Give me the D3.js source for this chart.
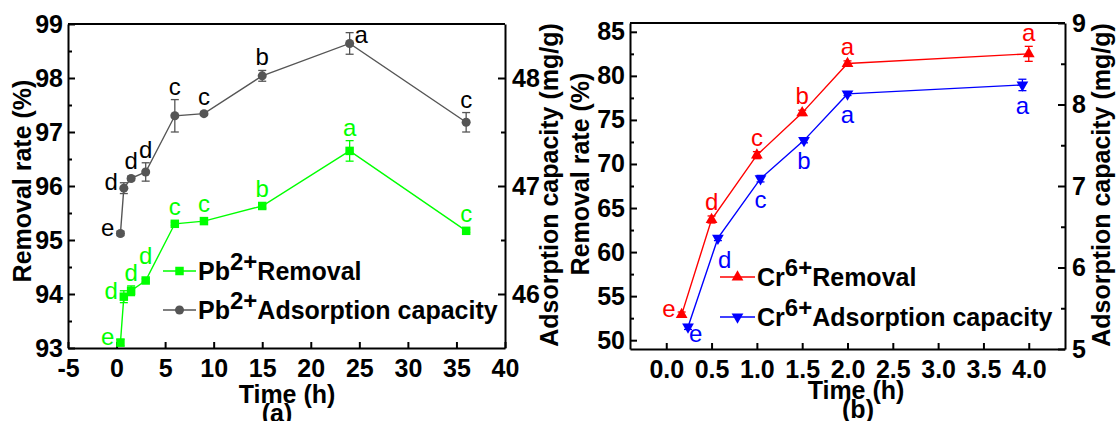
<!DOCTYPE html>
<meta charset="utf-8">
<style>

body {
  margin: 0;
  background: #fff;
}

text {
  font-family: "Liberation Sans", Arial, sans-serif;
}

.axis text {
  font-size: 25px;
  font-weight: bold;
  fill: #000;
}

.axis path,
.axis line,
.frame {
  stroke: #000;
  stroke-width: 2px;
  fill: none;
}

.title,
.legend {
  font-size: 25px;
  font-weight: bold;
}

.sig {
  font-size: 24px;
}

</style>
<body>
<script src="https://cdn.jsdelivr.net/npm/d3@7"></script>
<script>

// (a) Pb2+ : removal (left axis) and adsorption capacity (right axis)
var timePb = [0.4, 0.75, 1.5, 3, 6, 9, 15, 24, 36];
var pbRemoval = [93.10, 93.95, 94.06, 94.25, 95.30, 95.35, 95.63, 96.65, 95.17];
var pbRemovalErr = [0.06, 0.11, 0.09, 0.03, 0.03, 0.03, 0.04, 0.19, 0.03];
var pbCapacity = [46.56, 46.98, 47.07, 47.13, 47.65, 47.67, 48.02, 48.32, 47.59];
var pbCapacityErr = [0.02, 0.05, 0.02, 0.085, 0.15, 0.015, 0.05, 0.1, 0.09];
var pbLetters = ["e", "d", "d", "d", "c", "c", "b", "a", "c"];

var pbTimeTicks = [-5, 0, 5, 10, 15, 20, 25, 30, 35, 40];
var pbRemovalTicks = [93, 94, 95, 96, 97, 98, 99];
var pbCapacityTicks = [46, 47, 48];

// (b) Cr6+
var timeCrRemoval = [0.17, 0.5, 1.0, 1.5, 2.0, 4.0];
var timeCrCapacity = [0.24, 0.57, 1.04, 1.52, 2.0, 3.93];
var crRemoval = [52.9, 63.7, 71.0, 75.8, 81.4, 82.5];
var crRemovalErr = [0.3, 0.4, 0.4, 0.3, 0.3, 0.85];
var crCapacity = [5.27, 6.36, 7.09, 7.56, 8.13, 8.24];
var crCapacityErr = [0.03, 0.03, 0.04, 0.03, 0.02, 0.07];
var crLetters = ["e", "d", "c", "b", "a", "a"];

var crTimeTicks = [0, 0.5, 1, 1.5, 2, 2.5, 3, 3.5, 4];
var crRemovalTicks = [50, 55, 60, 65, 70, 75, 80, 85];
var crCapacityTicks = [5, 6, 7, 8, 9];

var svg = d3.select("body").append("svg")
    .attr("width", 1117)
    .attr("height", 421);

function zip(t, v, e, s) {
  return t.map(function(d, i) { return {t: d, v: v[i], e: e[i], s: s[i]}; });
}

function drawAxes(p) {
  var x = p.x, yL = p.yL, yR = p.yR;
  var top = yL.range()[1], bottom = yL.range()[0];
  var left = x.range()[0], right = x.range()[1];

  svg.append("g").attr("class", "axis")
      .attr("transform", "translate(0," + bottom + ")")
      .call(d3.axisBottom(x).tickValues(p.xTicks).tickSizeInner(-6).tickSizeOuter(0)
        .tickPadding(11).tickFormat(p.xFormat));

  svg.append("g").attr("class", "axis")
      .attr("transform", "translate(" + left + ",0)")
      .call(d3.axisLeft(yL).tickValues(p.yLTicks).tickSizeInner(-7).tickSizeOuter(0)
        .tickPadding(5).tickFormat(function(d) { return String(d); }));

  svg.append("g").attr("class", "axis")
      .attr("transform", "translate(" + left + ",0)")
      .call(d3.axisLeft(yL).tickValues(p.yLMinor).tickSize(-4).tickFormat(""))
      .select(".domain").remove();

  svg.append("g").attr("class", "axis")
      .attr("transform", "translate(" + right + ",0)")
      .call(d3.axisRight(yR).tickValues(p.yRTicks).tickSizeInner(-7).tickSizeOuter(0)
        .tickPadding(7).tickFormat(function(d) { return String(d); }));

  svg.append("g").attr("class", "axis")
      .attr("transform", "translate(" + right + ",0)")
      .call(d3.axisRight(yR).tickValues(p.yRMinor).tickSize(-4).tickFormat(""))
      .select(".domain").remove();

  svg.append("line").attr("class", "frame")
      .attr("x1", left).attr("x2", right)
      .attr("y1", top).attr("y2", top);
}

function place(kind, x, y, errTop) {
  switch (kind) {
    case "left": return [x - 6, y + 2, "end"];
    case "right": return [x + 5, y, "start"];
    case "high": return [x, y - 17, "middle"];
    case "below": return [x, y + 29, "middle"];
    case "belowRight": return [x, y + 30, "start"];
    case "rightBelow": return [x + 1, y + 15, "start"];
    default: return [x, Math.min(y - 9, errTop - 5), "middle"];
  }
}

function drawSeries(s) {
  var g = svg.append("g");
  var x = s.x, y = s.y;

  g.append("path")
      .datum(s.data)
      .attr("fill", "none")
      .attr("stroke", s.color)
      .attr("stroke-width", 1.4)
      .attr("d", d3.line().x(function(d) { return x(d.t); }).y(function(d) { return y(d.v); }));

  var err = g.selectAll(".err").data(s.data).enter().append("g")
      .attr("stroke", s.color)
      .attr("stroke-width", 1.3);
  err.append("line")
      .attr("x1", function(d) { return x(d.t); })
      .attr("x2", function(d) { return x(d.t); })
      .attr("y1", function(d) { return y(d.v - d.e); })
      .attr("y2", function(d) { return y(d.v + d.e); });
  [-1, 1].forEach(function(k) {
    err.append("line")
        .attr("x1", function(d) { return x(d.t) - 4; })
        .attr("x2", function(d) { return x(d.t) + 4; })
        .attr("y1", function(d) { return y(d.v + k * d.e); })
        .attr("y2", function(d) { return y(d.v + k * d.e); });
  });

  g.selectAll(".mk").data(s.data).enter().append("path")
      .attr("fill", s.color)
      .attr("d", d3.symbol().type(s.symbol).size(s.size))
      .attr("transform", function(d) {
        return "translate(" + x(d.t) + "," + y(d.v) + ")" + (s.flip ? " rotate(180)" : "");
      });

  g.selectAll(".sig").data(s.data).enter().append("text")
      .attr("class", "sig")
      .attr("fill", s.letterColor)
      .each(function(d, i) {
        var p = place(s.places[i], x(d.t), y(d.v), y(d.v + d.e));
        d3.select(this).attr("x", p[0]).attr("y", p[1]).attr("text-anchor", p[2]);
      })
      .text(function(d) { return d.s; });
}

function legendItem(l) {
  svg.append("line")
      .attr("x1", l.x0).attr("x2", l.x1)
      .attr("y1", l.y).attr("y2", l.y)
      .attr("stroke", l.color).attr("stroke-width", 1.4);
  svg.append("path")
      .attr("fill", l.color)
      .attr("d", d3.symbol().type(l.symbol).size(l.size))
      .attr("transform", "translate(" + (l.x0 + l.x1) / 2 + "," + l.y + ")" + (l.flip ? " rotate(180)" : ""));
  var t = svg.append("text").attr("class", "legend")
      .attr("x", l.x1 + 2).attr("y", l.y + 9);
  t.append("tspan").text(l.ion);
  t.append("tspan").attr("dy", -10).style("font-size", "24px").text(l.charge);
  t.append("tspan").attr("dy", 10).text(l.label);
}

function title(txt, x, y, rotate) {
  svg.append("text").attr("class", "title")
      .attr("text-anchor", "middle")
      .attr("transform", "translate(" + x + "," + y + ")" + (rotate ? " rotate(-90)" : ""))
      .attr("dy", rotate ? "0.35em" : 0)
      .text(txt);
}

// ---- panel (a)
var xa = d3.scaleLinear().domain([-5, 40]).range([68, 505]);
var yaL = d3.scaleLinear().domain([93, 99]).range([348, 24]);
var yaR = d3.scaleLinear().domain([45.5, 48.5]).range([348, 24]);

drawAxes({
  x: xa, yL: yaL, yR: yaR,
  xTicks: pbTimeTicks, xFormat: function(d) { return String(d); },
  yLTicks: pbRemovalTicks, yLMinor: d3.range(93.5, 99, 1),
  yRTicks: pbCapacityTicks, yRMinor: [46.5, 47.5]
});

drawSeries({
  x: xa, y: yaR, color: "#555", letterColor: "#000",
  symbol: d3.symbolCircle, size: 64,
  data: zip(timePb, pbCapacity, pbCapacityErr, pbLetters),
  places: ["left", "left", "above", "above", "above", "above", "above", "right", "above"]
});

drawSeries({
  x: xa, y: yaL, color: "#00ff00", letterColor: "#00ff00",
  symbol: d3.symbolSquare, size: 72,
  data: zip(timePb, pbRemoval, pbRemovalErr, pbLetters),
  places: ["left", "left", "above", "high", "above", "above", "above", "above", "above"]
});

legendItem({x0: 163, x1: 196, y: 271, color: "#00ff00", symbol: d3.symbolSquare, size: 72,
  ion: "Pb", charge: "2+", label: "Removal"});
legendItem({x0: 163, x1: 196, y: 310, color: "#555", symbol: d3.symbolCircle, size: 64,
  ion: "Pb", charge: "2+", label: "Adsorption capacity"});

title("Removal rate (%)", 22, 181, true);
title("Adsorption capacity (mg/g)", 549, 185, true);
title("Time (h)", 287, 403, false);
title("(a)", 277, 422, false);

// ---- panel (b)
var xb = d3.scaleLinear().domain([-0.4, 4.4]).range([630, 1065]);
var ybL = d3.scaleLinear().domain([49, 86]).range([349, 23]);
var ybR = d3.scaleLinear().domain([5, 9]).range([349, 23]);

drawAxes({
  x: xb, yL: ybL, yR: ybR,
  xTicks: crTimeTicks, xFormat: d3.format(".1f"),
  yLTicks: crRemovalTicks, yLMinor: d3.range(52.5, 85, 5),
  yRTicks: crCapacityTicks, yRMinor: [5.5, 6.5, 7.5, 8.5]
});

drawSeries({
  x: xb, y: ybL, color: "#ff0000", letterColor: "#ff0000",
  symbol: d3.symbolTriangle, size: 60,
  data: zip(timeCrRemoval, crRemoval, crRemovalErr, crLetters),
  places: ["left", "above", "above", "above", "above", "above"]
});

drawSeries({
  x: xb, y: ybR, color: "#0000ff", letterColor: "#0000ff", flip: true,
  symbol: d3.symbolTriangle, size: 60,
  data: zip(timeCrCapacity, crCapacity, crCapacityErr, crLetters),
  places: ["rightBelow", "belowRight", "below", "below", "below", "below"]
});

legendItem({x0: 720, x1: 755, y: 277, color: "#ff0000", symbol: d3.symbolTriangle, size: 60,
  ion: "Cr", charge: "6+", label: "Removal"});
legendItem({x0: 720, x1: 755, y: 317, color: "#0000ff", symbol: d3.symbolTriangle, size: 60, flip: true,
  ion: "Cr", charge: "6+", label: "Adsorption capacity"});

title("Removal rate (%)", 580, 174, true);
title("Adsorption capacity (mg/g)", 1101, 185, true);
title("Time (h)", 856, 399, false);
title("(b)", 858, 418, false);

</script>
